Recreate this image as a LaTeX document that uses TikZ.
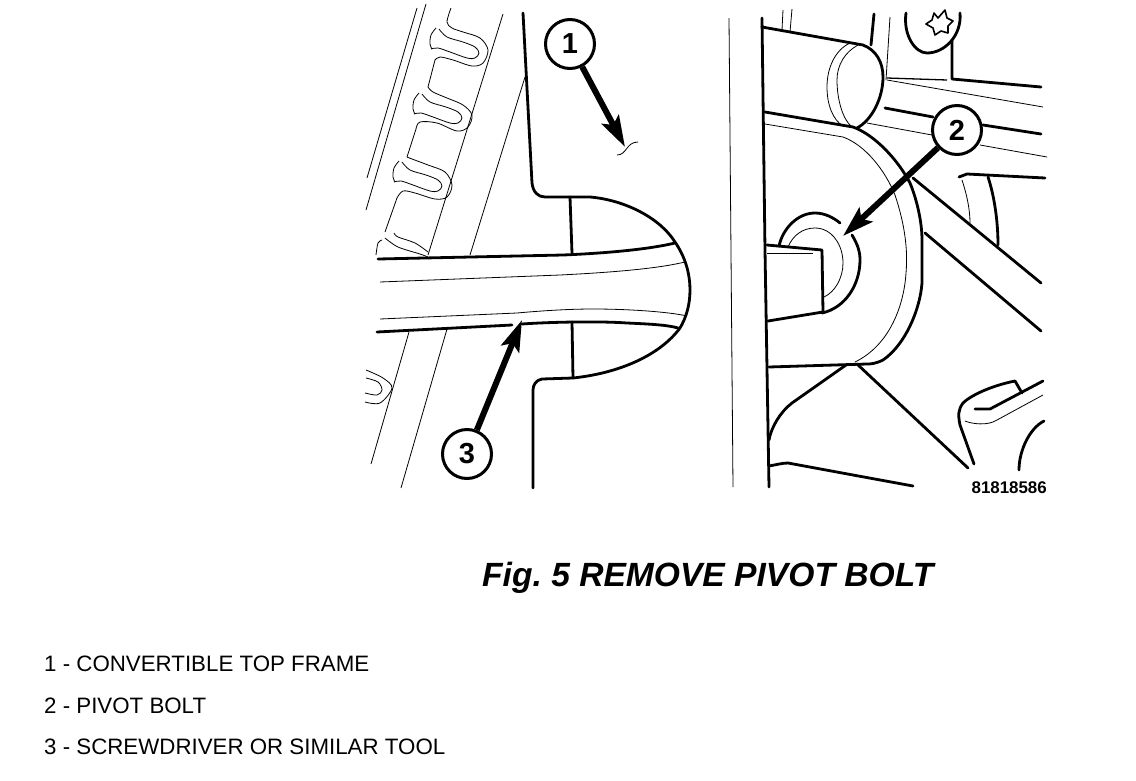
\documentclass[tikz,border=0pt]{standalone}
\usepackage{fontspec}
\setmainfont{Liberation Sans}
\usetikzlibrary{arrows.meta}
\tikzset{
    heavyline/.style={line width=2.8pt, line join=round, line cap=round},
    fineline/.style={line width=0.8pt, line join=round},
    callnum/.style={circle, draw, fill=white, line width=3pt, minimum size=49pt, inner sep=0pt,
        font=\fontsize{29}{29}\selectfont\bfseries},
    callarrow/.style={line width=6pt, -{Stealth[length=31pt, width=19pt, inset=6pt]}},
    legendtext/.style={anchor=west, inner sep=0pt, font=\fontsize{22.3}{23}\selectfont},
}
\begin{document}
\begin{tikzpicture}[x=1pt, y=-1pt]
    \frenchspacing
    \useasboundingbox (0,0) rectangle (1136,780);
    % Frame outline, left view
    \draw[heavyline] (523,13) -- (532,183) .. controls (533,192) and (538,197) .. (545,197)
        -- (590,197) .. controls (625,200) and (660,218) .. (675,242)
        .. controls (686,258) and (690,275) .. (690,290)
        .. controls (690,305) and (686,318) .. (680,328)
        .. controls (660,355) and (620,373) .. (573,378)
        -- (542,379) .. controls (536,380) and (533,385) .. (533,390) -- (533,488);
    \draw[heavyline] (570,197) -- (572,253);
    \draw[heavyline] (572,322) -- (573,378);
    % Screwdriver
    \draw[heavyline] (378,259) -- (563,255) .. controls (610,253) and (650,249) .. (675,243);
    \draw[heavyline] (377,332) -- (512,325);
    \draw[heavyline] (522,324) .. controls (550,322) and (600,321) .. (627,323)
        .. controls (650,324) and (668,325) .. (678,328);
    \draw[fineline] (380,282) -- (560,275) .. controls (620,272) and (660,268) .. (685,262);
    \draw[fineline] (380,319) -- (517,313) .. controls (550,310) and (575,309) .. (593,309)
        .. controls (630,309) and (670,312) .. (687,316);
    % Ribbed panel
    \draw[fineline] (417,8) -- (367,178);
    \draw[fineline] (426,4) -- (366,210);
    \draw[fineline] (503,14) -- (428,255);
    \draw[fineline] (409,332) -- (371,464);
    \draw[fineline] (525,77) -- (470,255);
    \draw[fineline] (447,329) -- (401,488);
    \draw[fineline] plot[smooth, tension=0.55] coordinates {(451,8) (447,22) (452,28) (463,32) (480,38) (488,50) (483,63) (472,66) (453,60) (440,57) (435,60)};
    \draw[fineline] (435,60) -- (428,87);
    \draw[fineline] plot[smooth, tension=0.55] coordinates {(428,87) (433,92) (447,98) (463,105) (472,115) (468,127) (457,131) (437,123) (420,122) (416,129)};
    \draw[fineline] (416,129) -- (407,157);
    \draw[fineline] plot[smooth, tension=0.55] coordinates {(407,157) (412,159) (428,165) (445,172) (452,185) (447,197) (435,199) (415,193) (403,191) (397,198)};
    \draw[fineline] (397,198) -- (385,232);
    \draw[fineline] plot[smooth, tension=0.55] coordinates {(394,233) (398,237) (415,243) (428,252)};
    \draw[fineline] plot[smooth, tension=0.55] coordinates {(385,238) (398,247) (420,254) (428,257)};
    \draw[fineline] plot[smooth, tension=0.55] coordinates {(382,240) (378,243) (376,255)};
    \draw[fineline] plot[smooth, tension=0.55] coordinates {(366,370) (383,378) (392,388) (380,403) (365,402)};
    \draw[fineline] plot[smooth, tension=0.55] coordinates {(366,378) (378,382) (382,390) (377,395) (365,393)};
    \foreach \dx/\dy in {0/0, -17/65, -37/133} {
        \begin{scope}[shift={(\dx,\dy)}]
            \draw[fineline] plot[smooth, tension=0.55] coordinates {(439,29) (447,37) (463,42) (475,47) (479,53) (475,58) (467,58) (450,52) (438,48) (431,49)};
            \draw[fineline] plot[smooth, tension=0.55] coordinates {(436,28) (431,35) (430,44) (432,49)};
        \end{scope}
    }
    % Mark on the frame
    \draw[fineline] (617,155) .. controls (627,155) and (626,142) .. (638,142);
    % Right view, edges
    \draw[fineline] (729,18) -- (733,487);
    \draw[heavyline] (762,18) -- (765,250) -- (769,487);
    % Cylinder
    \draw[heavyline] (762,27) -- (863,45) .. controls (876,50) and (883,62) .. (883,77)
        .. controls (883,98) and (872,120) .. (857,128);
    \draw[fineline] (850,43) .. controls (835,50) and (827,68) .. (827,87) .. controls (827,105) and (833,120) .. (843,126);
    \draw[fineline] (858,45) .. controls (845,52) and (837,65) .. (837,80) .. controls (837,100) and (843,120) .. (852,127);
    \draw[fineline] (783,10) -- (782,30);
    \draw[fineline] (792,9) -- (790,32);
    \draw[heavyline] (874,14) -- (871,45);
    \draw[fineline] (890,17) -- (886,80);
    % Screw head
    \draw[heavyline] (906,13) .. controls (903,35) and (915,53) .. (927,53)
        .. controls (945,53) and (962,35) .. (960,13);
    \draw[heavyline, line width=1.6pt] (934,13) -- (938,18) -- (945,10) -- (947,18) -- (953,21)
        -- (948,26) -- (948,33) -- (941,31) -- (935,35) -- (933,28) -- (926,24) -- (932,20) -- cycle;
    % Brackets behind the cylinder
    \draw[heavyline] (952,40) -- (952,79) -- (1041,87);
    \draw[fineline, line width=1.3pt] (887,78) -- (947,80);
    \draw[fineline] (887,80) -- (1043,107);
    \draw[heavyline] (885,108) -- (933,117);
    \draw[heavyline] (983,125) -- (1041,134);
    \draw[fineline] (867,123) -- (932,135);
    \draw[fineline] (980,145) -- (1047,157);
    % Bracket around the bolt
    \draw[fineline] (765,124) -- (843,137) .. controls (865,145) and (885,170) .. (895,195)
        .. controls (905,225) and (908,250) .. (906,273)
        .. controls (904,305) and (890,345) .. (855,362);
    \draw[heavyline] (765,112) -- (853,127) .. controls (875,135) and (898,160) .. (910,183)
        .. controls (917,200) and (922,222) .. (922,240) -- (922,283)
        .. controls (920,310) and (905,345) .. (883,360)
        .. controls (875,364) and (870,364) .. (867,364) -- (769,367);
    \draw[heavyline] (913,178) -- (1041,283);
    \draw[heavyline] (925,233) -- (1041,331);
    \draw[heavyline] (959,177) -- (967,174) -- (1045,178);
    \draw[fineline] (962,180) .. controls (967,195) and (970,210) .. (970,223);
    \draw[heavyline] (988,177) .. controls (994,195) and (998,220) .. (998,245);
    % Pivot bolt
    \draw[heavyline] (779,246) .. controls (783,228) and (798,213) .. (815,213) .. controls (825,213) and (834,218) .. (840,223);
    \draw[heavyline] (852,235) .. controls (858,245) and (860,252) .. (860,260)
        .. controls (860,285) and (845,308) .. (822,313);
    \draw[fineline] (788,247) .. controls (793,235) and (803,228) .. (815,228)
        .. controls (832,228) and (843,245) .. (843,263) .. controls (843,278) and (835,292) .. (824,297);
    \draw[heavyline] (767,245) -- (822,250) -- (823,312) -- (768,321);
    \draw[fineline] (767,253) -- (813,253);
    % Lower part of the right view
    \draw[heavyline] (846,365) -- (792,403) .. controls (780,412) and (771,428) .. (769,440);
    \draw[heavyline] (857,364) -- (968,468);
    \draw[heavyline] (769,466) .. controls (775,465) and (782,463) .. (788,463) -- (853,475) -- (913,486);
    \draw[heavyline] (974,464) -- (960,425) .. controls (958,415) and (958,410) .. (963,403)
        .. controls (970,396) and (990,386) .. (1015,381) -- (1022,393);
    \draw[heavyline] (975,409) -- (990,409) -- (1043,381);
    \draw[fineline] (965,421) .. controls (972,424) and (988,426) .. (997,420) -- (1043,395);
    \draw[heavyline] (1019,470) .. controls (1019,450) and (1030,428) .. (1044,421);
    % Callouts
    \node[callnum] (callone) at (570,44) {1};
    \node[callnum] (calltwo) at (957,130) {2};
    \node[callnum] (callthree) at (467,454) {3};
    \coordinate (frametip) at (625,147);
    \coordinate (bolttip) at (843,236);
    \coordinate (tooltip) at (522,320);
    \draw[callarrow] (callone) -- (frametip);
    \draw[callarrow] (calltwo) -- (bolttip);
    \draw[callarrow] (callthree) -- (tooltip);
    % Texts
    \node[anchor=east, inner sep=0pt, font=\fontsize{16.9}{17}\selectfont\bfseries] (partnum) at (1047,488) {81818586};
    \node[anchor=west, inner sep=0pt, font=\fontsize{33.6}{34}\selectfont\bfseries\itshape] (figtitle) at (482,578) {Fig. 5 REMOVE PIVOT BOLT};
    \node[legendtext] (legendone) at (44,664) {1 - CONVERTIBLE TOP FRAME};
    \node[legendtext] (legendtwo) at (44,706) {2 - PIVOT BOLT};
    \node[legendtext] (legendthree) at (44,747) {3 - SCREWDRIVER OR SIMILAR TOOL};
\end{tikzpicture}
\end{document}
